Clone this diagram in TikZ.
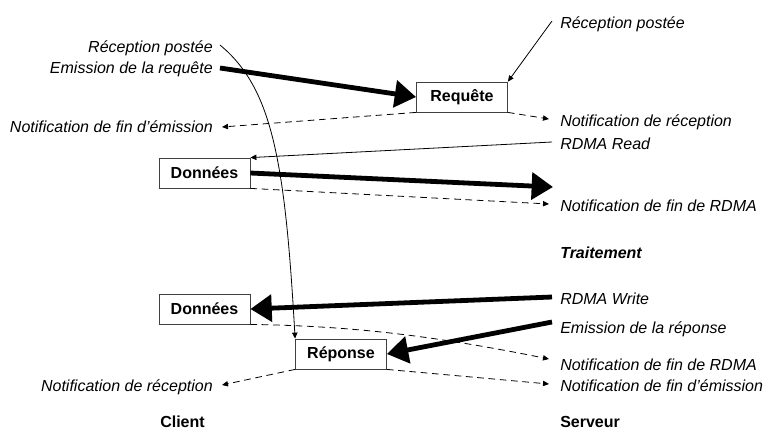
\documentclass[tikz,border=0pt]{standalone}
\usepackage{fontspec}
\setmainfont{Liberation Sans}
\usetikzlibrary{arrows.meta}
\begin{document}
\begin{tikzpicture}[x=0.75pt,y=-0.75pt,
  every node/.style={font=\fontsize{12}{14}\selectfont},
  lbl/.style={font=\fontsize{12}{14}\selectfont\itshape, inner sep=0pt},
  ttl/.style={font=\fontsize{12}{14}\selectfont\bfseries, inner sep=0pt},
  box/.style={draw=black!75, line width=0.6pt, minimum width=68.25pt, minimum height=22.5pt, inner sep=0pt, font=\fontsize{12}{14}\selectfont\bfseries},
  thinarr/.style={line width=0.6pt, -{Triangle[length=4.5pt,width=4pt]}},
  dsh/.style={thinarr, dash pattern=on 5pt off 3.5pt},
  bigarr/.style={line width=3.6pt, -{Triangle[length=16pt,width=20pt]}}]
\useasboundingbox (0,0) rectangle (765,430);
% boxes
\node[box] (req) at (462,97) {Requête};
\node[box] (don1) at (204.5,173) {Données};
\node[box] (don2) at (204.5,309) {Données};
\node[box] (rep) at (341,354) {Réponse};
% left labels
\node[lbl, anchor=base east] (recL) at (213,52) {Réception postée};
\node[lbl, anchor=base east] (emreq) at (213,73) {Emission de la requête};
\node[lbl, anchor=base east] (nfeL) at (213,132) {Notification de fin d’émission};
\node[lbl, anchor=base east] (nrL) at (213,391) {Notification de réception};
% right labels
\node[lbl, anchor=base west] (recR) at (560,28) {Réception postée};
\node[lbl, anchor=base west] (nrR) at (560,126) {Notification de réception};
\node[lbl, anchor=base west] (rread) at (560,149) {RDMA Read};
\node[lbl, anchor=base west] (nfr1) at (560,211) {Notification de fin de RDMA};
\node[ttl, font=\fontsize{12}{14}\selectfont\bfseries\itshape, anchor=base west] (trait) at (560,258) {Traitement};
\node[lbl, anchor=base west] (rwrite) at (560,304) {RDMA Write};
\node[lbl, anchor=base west] (emrep) at (560,333) {Emission de la réponse};
\node[lbl, anchor=base west] (nfr2) at (560,370) {Notification de fin de RDMA};
\node[lbl, anchor=base west] (nfe2) at (560,391) {Notification de fin d’émission};
\node[ttl, anchor=base west] (client) at (160,427) {Client};
\node[ttl, anchor=base west] (serveur) at (560,427) {Serveur};
% connector ends
\coordinate (cRecL) at (220,45);
\coordinate (cEmReq) at (220,68);
\coordinate (cNfeL) at (222,127);
\coordinate (cRecR) at (552,21);
\coordinate (cNrR) at (549,119);
\coordinate (cRead) at (552,142);
\coordinate (cData1) at (553,187);
\coordinate (cNfr1) at (549,204);
\coordinate (cWrite) at (552,297);
\coordinate (cEmRep) at (552,322);
\coordinate (cNfr2) at (549,359);
\coordinate (cNrL) at (222,385);
\coordinate (cNfe2) at (549,384);
% connectors
\draw[bigarr] (cEmReq) -- (req.west);
\draw[thinarr] (cRecL) .. controls (272,88) and (285,160) .. (rep.north west);
\draw[thinarr] (cRecR) -- (req.north east);
\draw[dsh] (req.south west) -- (cNfeL);
\draw[dsh] (req.south east) -- (cNrR);
\draw[thinarr] (cRead) -- (don1.north east);
\draw[bigarr] (don1.east) -- (cData1);
\draw[dsh] (don1.south east) -- (cNfr1);
\draw[bigarr] (cWrite) -- (don2.east);
\draw[bigarr] (cEmRep) -- (rep.east);
\draw[dsh] (don2.south east) .. controls (350,326) and (430,335) .. (cNfr2);
\draw[dsh] (rep.south west) -- (cNrL);
\draw[dsh] (rep.south east) -- (cNfe2);
\end{tikzpicture}
\end{document}
